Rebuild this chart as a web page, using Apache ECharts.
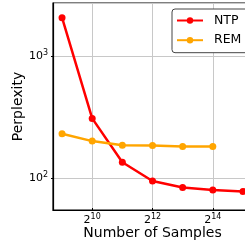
<!DOCTYPE html>
<html>
<head>
<meta charset="utf-8">
<script src="https://cdn.jsdelivr.net/npm/echarts@6/dist/echarts.min.js"></script>
<style>
  html, body { margin: 0; padding: 0; background: #fff; }
  #chart { width: 245px; height: 242px; }
</style>
</head>
<body>
<div id="chart"></div>
<script>
// number of samples (2^9 .. 2^15)
const samples = [512, 1024, 2048, 4096, 8192, 16384, 32768];
const ntpPerplexity = [2050, 308, 135, 95, 84, 80, 78];
const remPerplexity = [231, 201, 186, 185, 182, 182];
const xTickValues = [1024, 4096, 16384];

const font = 'DejaVu Sans';

const chart = echarts.init(document.getElementById('chart'), null, {renderer: 'canvas'});

function powLabel(base) {
    return (v) => {
        const e = Math.log(v) / Math.log(base);
        const r = Math.round(e);
        if (Math.abs(e - r) > 1e-6) return '';
        return base + '{sup|' + r + '}';
    };
}

const labelRich = {
    sup: {fontSize: 8, fontFamily: font, color: '#000', verticalAlign: 'top', padding: [0, 0, 6, 0]}
};

const option = {
    animation: false,
    grid: {
        left: 53, top: 3, width: 199, height: 207,
        outerBoundsMode: 'none',
        show: true, borderColor: '#000', borderWidth: 1.2, backgroundColor: 'transparent'
    },
    legend: {
        orient: 'vertical',
        left: 172, top: 9,
        padding: [5, 30, 6, 4],
        itemGap: 6.7,
        itemWidth: 26, itemHeight: 8,
        backgroundColor: '#fff',
        borderColor: '#444', borderWidth: 1, borderRadius: 3,
        textStyle: {fontFamily: font, fontSize: 12.5, lineHeight: 12, color: '#000', padding: [0, 0, 0, 6]},
        data: ['NTP', 'REM']
    },
    xAxis: {
        type: 'log', logBase: 2,
        min: Math.pow(2, 8.7), max: Math.pow(2, 15.3),
        name: 'Number of Samples', nameLocation: 'middle', nameGap: 16, nameMoveOverlap: false,
        nameTextStyle: {fontFamily: font, fontSize: 14, color: '#000'},
        axisLine: {lineStyle: {color: '#000', width: 1.2}},
        axisTick: {show: true, length: 2, inside: true, customValues: xTickValues, lineStyle: {color: '#000'}},
        axisLabel: {customValues: xTickValues, formatter: powLabel(2), fontFamily: font, fontSize: 11, color: '#000', margin: 3, rich: labelRich},
        splitLine: {show: true, lineStyle: {color: '#c8c8c8', width: 1}},
        minorTick: {show: false}
    },
    yAxis: {
        type: 'log', logBase: 10,
        min: 55, max: 2700,
        name: 'Perplexity', nameLocation: 'middle', nameGap: 28, nameMoveOverlap: false,
        nameTextStyle: {fontFamily: font, fontSize: 14, color: '#000'},
        axisLine: {lineStyle: {color: '#000', width: 1.2}},
        axisTick: {show: true, length: 2, lineStyle: {color: '#000'}},
        axisLabel: {formatter: powLabel(10), fontFamily: font, fontSize: 11, color: '#000', margin: 5, rich: labelRich, showMinLabel: false, showMaxLabel: false},
        splitLine: {show: true, lineStyle: {color: '#c8c8c8', width: 1}}
    },
    series: [
        {
            name: 'NTP', type: 'line',
            data: samples.map((s, i) => [s, ntpPerplexity[i]]),
            color: '#ff0000',
            lineStyle: {width: 2.5},
            symbol: 'circle', symbolSize: 7
        },
        {
            name: 'REM', type: 'line',
            data: remPerplexity.map((v, i) => [samples[i], v]),
            color: '#ffa500',
            lineStyle: {width: 2.5},
            symbol: 'circle', symbolSize: 7
        }
    ]
};

chart.setOption(option);
</script>
</body>
</html>
